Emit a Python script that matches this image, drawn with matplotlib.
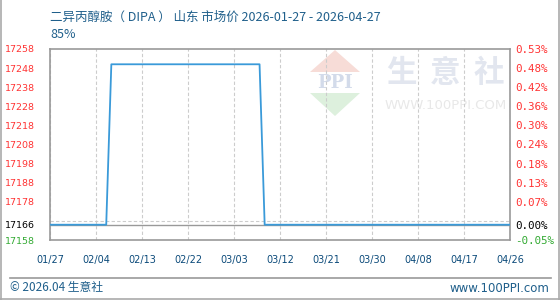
import numpy as np
import pandas as pd
import matplotlib
matplotlib.use("Agg")
import matplotlib.pyplot as plt
from matplotlib.patches import Polygon
from matplotlib.lines import Line2D

plt.rcParams['font.family'] = ['DejaVu Sans', 'Noto Sans CJK SC']

# price points (the series is flat between them)
dates = ['2026-01-27', '2026-02-07', '2026-02-08', '2026-03-09', '2026-03-10', '2026-04-27']
prices = [17166, 17166, 17250, 17250, 17166, 17166]
base_price = 17166

# axis labels
x_labels = ['01/27', '02/04', '02/13', '02/22', '03/03', '03/12',
            '03/21', '03/30', '04/08', '04/17', '04/26']
y_ticks = [17258, 17248, 17238, 17228, 17218, 17208, 17198, 17188, 17178, 17166, 17158]
pct_labels = ['0.53%', '0.48%', '0.42%', '0.36%', '0.30%', '0.24%', '0.18%',
              '0.13%', '0.07%', '0.00%', '-0.05%']
grid_levels = [17168, 17178, 17188, 17198, 17208, 17218, 17228, 17238, 17248]

title = '二异丙醇胺（ DIPA ） 山东 市场价 2026-01-27 - 2026-04-27'
subtitle = '85%'

RED = '#ff3333'
GREEN = '#33aa33'
BLUE_TXT = '#1f5f8b'
LINE = '#3a9ad9'
cjk = ['Noto Sans CJK SC', 'DejaVu Sans']

d = pd.to_datetime(dates)
x = (d - d[0]).days.values
span = (pd.Timestamp('2026-04-27') - d[0]).days

fig = plt.figure(figsize=(5.6, 3.0), dpi=100)
ax = fig.add_axes([50 / 560, 1 - 240 / 300, 460 / 560, 191 / 300])

def fx(px):
    return px / 560

def fy(py):
    return 1 - py / 300

# watermark
ax.add_patch(Polygon([[fx(335), fy(50)], [fx(310), fy(72)], [fx(360), fy(72)]],
                     closed=True, transform=fig.transFigure, color='#f7dcd7', zorder=0, lw=0))
ax.add_patch(Polygon([[fx(310), fy(93)], [fx(360), fy(93)], [fx(335), fy(116)]],
                     closed=True, transform=fig.transFigure, color='#ddf0dd', zorder=0, lw=0))
ax.text(fx(335), fy(83), 'PPI', transform=fig.transFigure, ha='center', va='center',
        fontsize=13, family='DejaVu Serif', fontweight='bold', color='#d3dbea', zorder=0)
for ch, cx in zip('生意社', [401, 445, 489]):
    ax.text(fx(cx), fy(73), ch, transform=fig.transFigure, ha='center', va='center',
            fontsize=22, family=cjk, fontweight='bold', color='#e2e6ef', zorder=0)
ax.text(fx(446), fy(106), 'WWW.100PPI.COM', transform=fig.transFigure, ha='center',
        va='center', fontsize=9.5, color='#e8e8e8', zorder=0)

ax.axhline(base_price, color='#999999', lw=1, zorder=1.5)
ax.plot(x, prices, color=LINE, lw=1.3, zorder=3)

ax.set_xlim(0, span)
ax.set_ylim(min(y_ticks), max(y_ticks))
ax.set_xticks(np.linspace(0, span, len(x_labels)))
ax.set_xticklabels(x_labels, fontsize=7, color='#0b4a7a')
ax.set_yticks(y_ticks)
ax.set_yticklabels([str(v) for v in y_ticks], fontsize=6.8)
ax.set_yticks(grid_levels, minor=True)
for lab, v in zip(ax.get_yticklabels(), y_ticks):
    lab.set_color(RED if v > base_price else ('black' if v == base_price else GREEN))
ax.tick_params(axis='x', length=0, pad=11)
ax.tick_params(axis='y', which='both', length=0, pad=11)
ax.grid(axis='x', which='major', color='#cccccc', ls=(0, (3, 2)), lw=0.8)
ax.grid(axis='y', which='minor', color='#cccccc', ls=(0, (3, 2)), lw=0.8)
for s in ax.spines.values():
    s.set_color('#999999')
    s.set_linewidth(1.2)

ax2 = ax.twinx()
ax2.set_ylim(ax.get_ylim())
ax2.set_yticks(y_ticks)
ax2.set_yticklabels(pct_labels, fontsize=7.8, family='DejaVu Sans Mono')
for lab, v in zip(ax2.get_yticklabels(), y_ticks):
    lab.set_color(RED if v > base_price else ('black' if v == base_price else GREEN))
ax2.tick_params(axis='y', length=0, pad=4)
for s in ax2.spines.values():
    s.set_visible(False)

fig.text(fx(50), fy(17), title, fontsize=9, color=BLUE_TXT, family=cjk, va='center')
fig.text(fx(50), fy(35), subtitle, fontsize=9, color=BLUE_TXT, family=cjk, va='center')

# footer
fig.add_artist(Line2D([fx(10), fx(551)], [fy(277.5), fy(277.5)], color='#999999', lw=1.2))
fig.text(fx(10), fy(288), '© 2026.04 生意社', fontsize=8.5, color=BLUE_TXT, family=cjk, va='center')
fig.text(fx(549), fy(288), 'www.100PPI.com', fontsize=8.5, color=BLUE_TXT, ha='right', va='center')

# outer frame
for xs, ys in [([0.001, 0.001], [0, 1]), ([0.999, 0.999], [0, 1]), ([0, 1], [0.002, 0.002])]:
    fig.add_artist(Line2D(xs, ys, color='#aaaaaa', lw=1.2))

fig.savefig('out.png', dpi=100)
